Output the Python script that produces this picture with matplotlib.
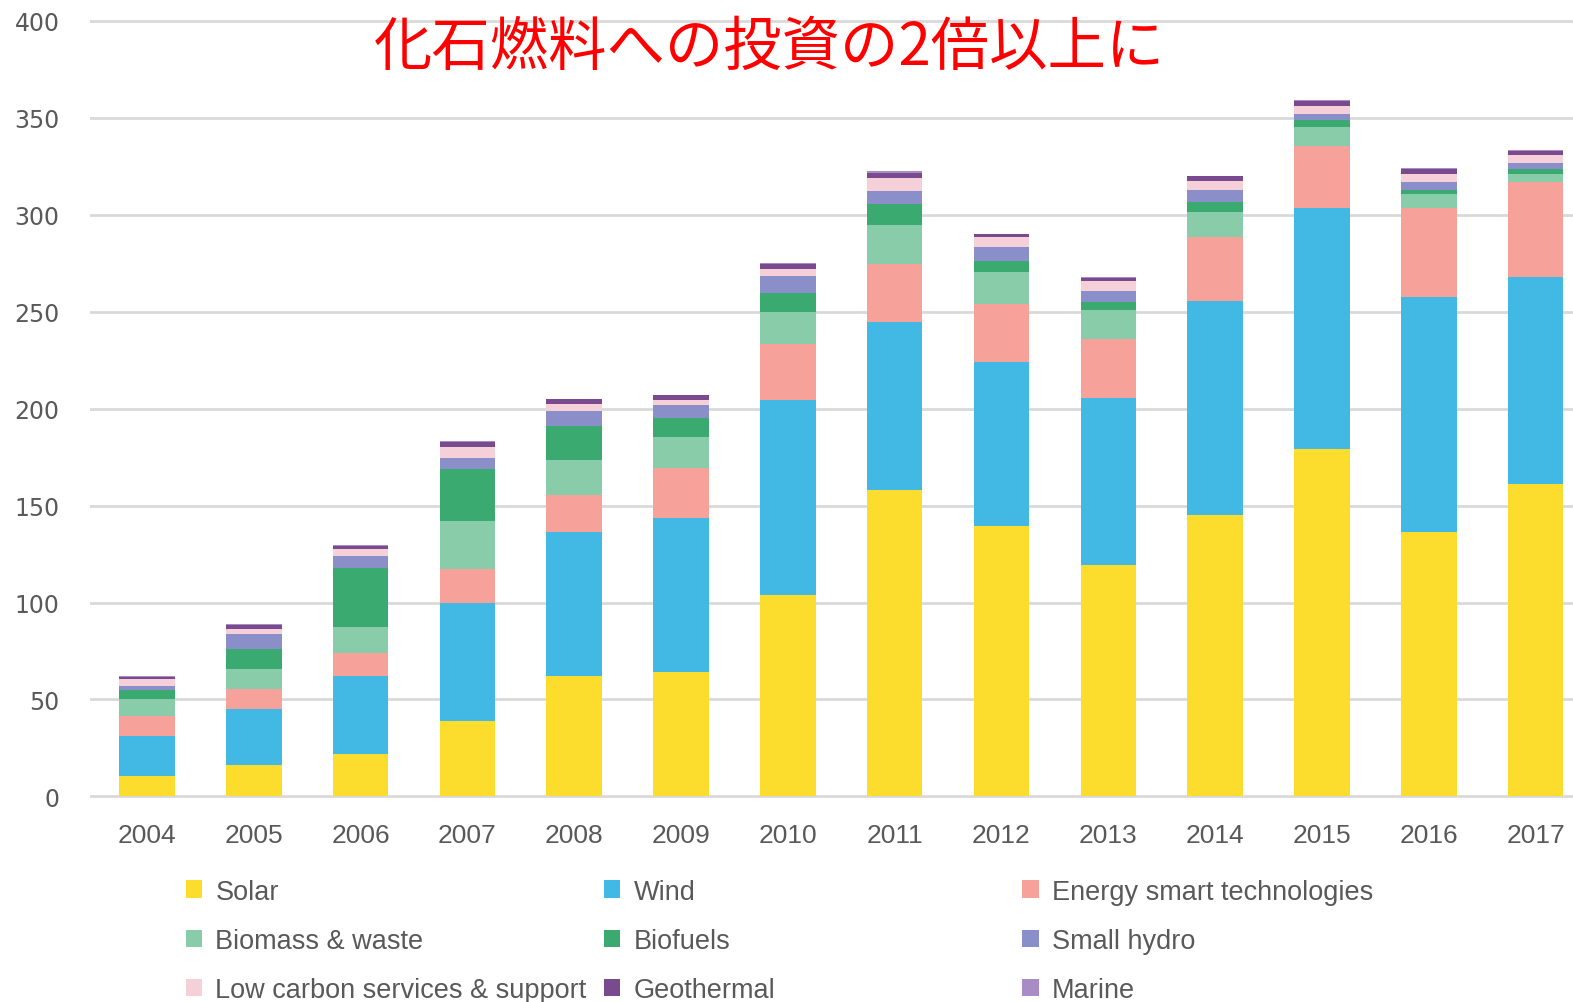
import matplotlib
matplotlib.use("Agg")
import matplotlib.pyplot as plt
import numpy as np

years = ["2004", "2005", "2006", "2007", "2008", "2009", "2010",
         "2011", "2012", "2013", "2014", "2015", "2016", "2017"]

series_names = ["Solar", "Wind", "Energy smart technologies", "Biomass & waste",
                "Biofuels", "Small hydro", "Low carbon services & support",
                "Geothermal", "Marine"]

solar       = [10.3, 16.4, 21.6, 38.8, 62.1, 64.1, 103.8, 158.0, 139.6, 119.6, 145.0, 179.1, 136.2, 161.2]
wind        = [20.7, 28.5, 40.5, 61.2, 74.5, 79.3, 100.5, 86.5, 84.3, 85.8, 110.4, 124.3, 121.6, 106.9]
energy_smart= [10.7, 10.3, 12.1, 17.3, 18.9, 25.9, 29.1, 29.9, 30.2, 30.5, 33.1, 32.3, 45.6, 48.9]
biomass     = [8.7, 10.7, 13.4, 24.5, 17.8, 16.0, 16.6, 20.1, 16.3, 15.2, 13.0, 9.6, 7.2, 4.3]
biofuels    = [4.4, 10.0, 30.0, 27.2, 17.6, 9.9, 9.9, 11.0, 6.0, 3.9, 5.0, 3.6, 2.3, 2.4]
small_hydro = [2.1, 7.8, 6.6, 5.5, 7.9, 6.9, 8.5, 6.8, 6.8, 5.9, 6.5, 3.1, 4.1, 2.9]
low_carbon  = [3.5, 2.5, 3.4, 5.7, 3.8, 2.2, 3.4, 6.5, 5.2, 5.0, 4.4, 4.1, 4.3, 4.3]
geothermal  = [1.4, 2.2, 1.7, 2.5, 2.2, 2.5, 3.0, 3.0, 1.5, 1.7, 2.4, 2.7, 2.5, 1.8]
marine      = [0.3, 0.4, 0.4, 0.4, 0.4, 0.4, 0.5, 0.6, 0.4, 0.4, 0.4, 0.4, 0.4, 0.5]

yticks = [0, 50, 100, 150, 200, 250, 300, 350, 400]
title_text = "化石燃料への投資の2倍以上に"

colors = ["#FCDD2E", "#42B9E4", "#F6A29B", "#88CCAA", "#3BAA70",
          "#8B8FC9", "#F6D0D9", "#7A4A8E", "#A98BC6"]

data = [solar, wind, energy_smart, biomass, biofuels, small_hydro,
        low_carbon, geothermal, marine]

fig = plt.figure(figsize=(15.73, 10.03), dpi=100)
ax = fig.add_axes([0.0574, 0.2031, 0.9426, 0.7769])

x = np.arange(len(years))
bottom = np.zeros(len(years))
containers = []
for vals, name, c in zip(data, series_names, colors):
    v = np.array(vals)
    bc = ax.bar(x, v, width=0.52, bottom=bottom, color=c, label=name,
                linewidth=0, zorder=3)
    containers.append(bc)
    bottom += v

ax.set_ylim(-1, 401)
ax.set_xlim(-0.53, 13.35)
ax.set_yticks(yticks)
ax.set_xticks(x)
ax.set_xticklabels(years)
ax.grid(axis="y", color="#D9D9D9", linewidth=2, zorder=0)
ax.set_axisbelow(True)
for s in ax.spines.values():
    s.set_visible(False)
ax.tick_params(axis="both", length=0, colors="#595959")
ax.tick_params(axis="y", labelsize=17, pad=22)
ax.tick_params(axis="x", labelsize=19, pad=18)
for lab in ax.get_yticklabels():
    lab.set_family(["DejaVu Sans"])
for lab in ax.get_xticklabels():
    lab.set_family(["Liberation Sans"])

fig.text(0.489, 0.952, title_text, color="#FF0000", fontsize=42,
         family=["Noto Sans CJK JP", "DejaVu Sans"], ha="center", va="center")

# legend in 3 columns (row-major order)
col_idx = [[0, 3, 6], [1, 4, 7], [2, 5, 8]]
col_x = [0.118, 0.384, 0.650]
for cx, idxs in zip(col_x, col_idx):
    leg = fig.legend([containers[i] for i in idxs], [series_names[i] for i in idxs],
                     loc="upper left", bbox_to_anchor=(cx, 0.123), frameon=False,
                     borderpad=0, borderaxespad=0, handlelength=0.6, handleheight=0.6,
                     handletextpad=0.5, labelspacing=0.85,
                     prop={"family": ["Liberation Sans"], "size": 19.5})
    for t in leg.get_texts():
        t.set_color("#595959")

fig.savefig("out.png", dpi=100)
